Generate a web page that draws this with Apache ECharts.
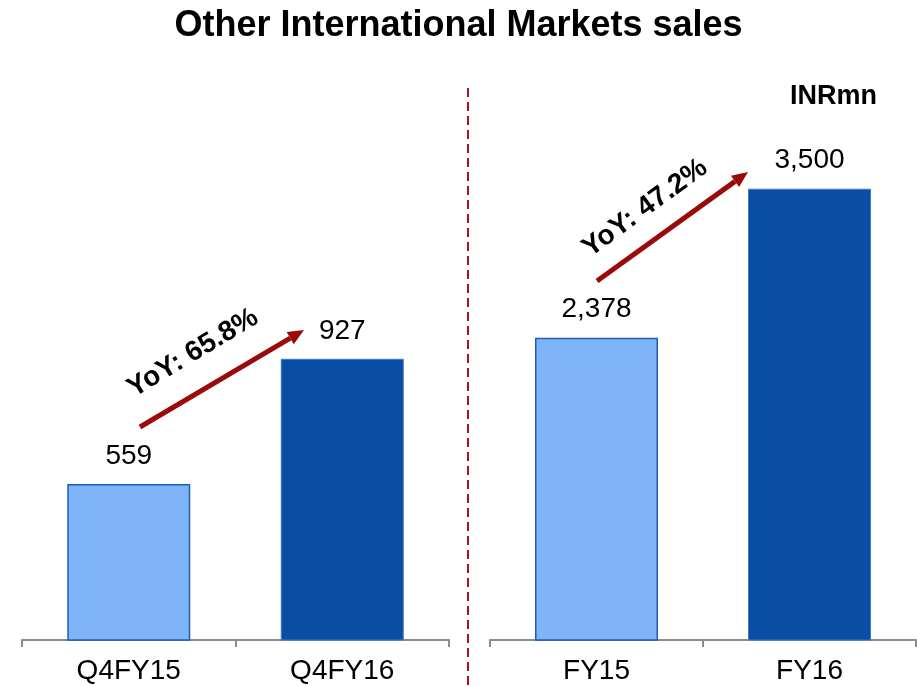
<!DOCTYPE html>
<html>
<head>
    <meta charset="utf-8">
    <title>Other International Markets sales</title>
    <script src="https://cdn.jsdelivr.net/npm/echarts@6/dist/echarts.min.js"></script>
    <style>
        html, body { margin: 0; padding: 0; background: #fff; }
        #main { width: 917px; height: 686px; }
    </style>
</head>
<body>
<div id="main"></div>
<script type="text/javascript">
    // 数据
    var quarterCats = ['Q4FY15', 'Q4FY16'];
    var quarterSales = [559, 927];
    var yearCats = ['FY15', 'FY16'];
    var yearSales = [2378, 3500];
    var yoyTexts = ['YoY: 65.8%', 'YoY: 47.2%'];

    var lightBlue = '#80b4f8';
    var darkBlue = '#084ea4';
    var arrowRed = '#9b0a0a';

    var myChart = echarts.init(document.getElementById('main'));

    function barItems(vals) {
        return vals.map(function (v, i) {
            return {
                value: v,
                itemStyle: i === 0
                    ? { color: lightBlue, borderColor: '#1f5cb8', borderWidth: 1.5 }
                    : { color: darkBlue, borderColor: '#3f78c8', borderWidth: 1 }
            };
        });
    }

    // 箭头
    function arrow(x1, y1, x2, y2) {
        var ang = Math.atan2(y2 - y1, x2 - x1);
        var L = 16, W = 7;
        var bx = x2 - L * Math.cos(ang), by = y2 - L * Math.sin(ang);
        var nx = -Math.sin(ang), ny = Math.cos(ang);
        return [
            { type: 'line', shape: { x1: x1, y1: y1, x2: bx, y2: by },
              style: { stroke: arrowRed, lineWidth: 5 } },
            { type: 'polygon', shape: { points: [[x2, y2], [bx + nx * W, by + ny * W], [bx - nx * W, by - ny * W]] },
              style: { fill: arrowRed } }
        ];
    }

    var axisCommon = {
        axisLine: { lineStyle: { color: '#8c8c8c', width: 2 } },
        axisTick: { show: true, length: 7, lineStyle: { color: '#8c8c8c', width: 2 } },
        axisLabel: { color: '#000', fontSize: 28, fontFamily: 'Liberation Sans', margin: 17 }
    };
    var labelCommon = {
        show: true, position: 'top', distance: 14, color: '#000', fontSize: 28,
        fontFamily: 'Liberation Sans',
        formatter: function (p) { return p.value.toLocaleString('en-US'); }
    };

    var graphics = [
        { type: 'line', shape: { x1: 468, y1: 88, x2: 468, y2: 686 },
          style: { stroke: '#a8132a', lineWidth: 2, lineDash: [9, 5] } },
        { type: 'text', x: 877, y: 97, style: { text: 'INRmn', fill: '#000', font: 'bold 27px "Liberation Sans"',
          textAlign: 'right', textVerticalAlign: 'middle' } },
        { type: 'text', x: 193, y: 353, rotation: 31 * Math.PI / 180,
          style: { text: yoyTexts[0], fill: '#000', font: 'bold 28px "Liberation Sans"',
          textAlign: 'center', textVerticalAlign: 'middle' } },
        { type: 'text', x: 645, y: 208, rotation: 36 * Math.PI / 180,
          style: { text: yoyTexts[1], fill: '#000', font: 'bold 28px "Liberation Sans"',
          textAlign: 'center', textVerticalAlign: 'middle' } }
    ].concat(arrow(140, 427, 304, 330)).concat(arrow(597, 281, 748, 172));

    myChart.setOption({
        animation: false,
        title: {
            text: 'Other International Markets sales',
            left: 'center',
            top: 3,
            textStyle: { fontSize: 36, fontWeight: 'bold', color: '#000', fontFamily: 'Liberation Sans' }
        },
        grid: [
            { left: 22, width: 427, top: 96, bottom: 46 },
            { left: 490, width: 426, top: 56, bottom: 46 }
        ],
        xAxis: [
            Object.assign({ type: 'category', gridIndex: 0, data: quarterCats }, axisCommon),
            Object.assign({ type: 'category', gridIndex: 1, data: yearCats }, axisCommon)
        ],
        yAxis: [
            { type: 'value', gridIndex: 0, min: 100, max: 1700, show: false },
            { type: 'value', gridIndex: 1, min: 100, max: 4500, show: false }
        ],
        series: [
            { type: 'bar', xAxisIndex: 0, yAxisIndex: 0, barWidth: 123,
              data: barItems(quarterSales), label: labelCommon },
            { type: 'bar', xAxisIndex: 1, yAxisIndex: 1, barWidth: 123,
              data: barItems(yearSales), label: labelCommon }
        ],
        graphic: graphics
    });
</script>
</body>
</html>
